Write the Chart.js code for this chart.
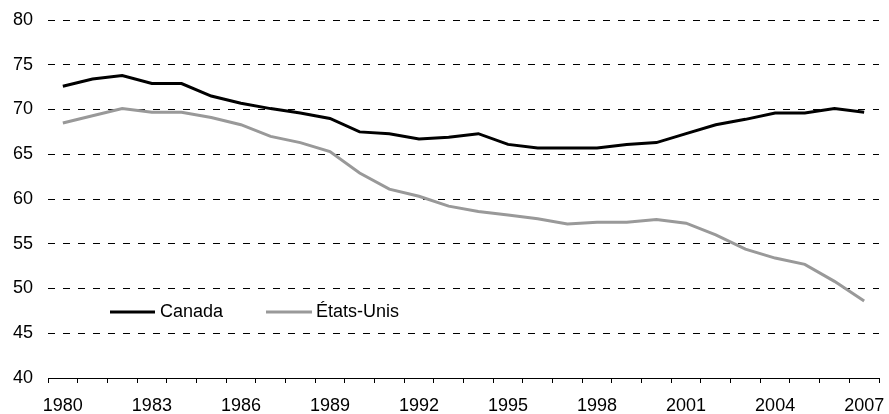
<!DOCTYPE html>
<html>
<head>
<meta charset="utf-8">
<script src="https://cdn.jsdelivr.net/npm/chart.js@4"></script>
<style>
html,body{margin:0;padding:0;background:#fff;}
#wrap{width:889px;height:414px;}
</style>
</head>
<body>
<div id="wrap"><canvas id="c" width="889" height="414"></canvas></div>
<script>
const years = [1980,1981,1982,1983,1984,1985,1986,1987,1988,1989,1990,1991,1992,1993,1994,1995,1996,1997,1998,1999,2000,2001,2002,2003,2004,2005,2006,2007];
const canada = [72.6,73.4,73.8,72.9,72.9,71.5,70.7,70.1,69.6,69.0,67.5,67.3,66.7,66.9,67.3,66.1,65.7,65.7,65.7,66.1,66.3,67.3,68.3,68.9,69.6,69.6,70.1,69.7];
const etatsUnis = [68.5,69.3,70.1,69.7,69.7,69.1,68.3,67.0,66.3,65.3,62.9,61.1,60.3,59.2,58.6,58.2,57.8,57.2,57.4,57.4,57.7,57.3,56.0,54.4,53.4,52.7,50.8,48.6];
const seriesNames = ["Canada","États-Unis"];
const yMin = 40, yMax = 80, yStep = 5;
const labelEvery = 3;

const FONT = "Liberation Sans, Arial, sans-serif";

const legendPlugin = {
  id: 'inlineLegend',
  afterDatasetsDraw(chart) {
    const ctx = chart.ctx;
    const items = [
      {x0:110, x1:155, tx:160},
      {x0:266, x1:312, tx:316}
    ];
    const y = 312;
    ctx.save();
    chart.data.datasets.forEach((ds, i) => {
      const it = items[i];
      ctx.beginPath();
      ctx.strokeStyle = ds.borderColor;
      ctx.lineWidth = ds.borderWidth;
      ctx.moveTo(it.x0, y);
      ctx.lineTo(it.x1, y);
      ctx.stroke();
      ctx.fillStyle = '#000';
      ctx.font = '18px ' + FONT;
      ctx.textBaseline = 'middle';
      ctx.textAlign = 'left';
      ctx.fillText(ds.label, it.tx, y);
    });
    ctx.restore();
  }
};

new Chart(document.getElementById('c'), {
  type: 'line',
  data: {
    labels: years.map(String),
    datasets: [
      {label: seriesNames[0], data: canada, borderColor: '#000000', borderWidth: 3, pointRadius: 0, tension: 0, fill: false},
      {label: seriesNames[1], data: etatsUnis, borderColor: '#999999', borderWidth: 3, pointRadius: 0, tension: 0, fill: false}
    ]
  },
  options: {
    responsive: false,
    animation: false,
    devicePixelRatio: 1,
    layout: {padding: {top: 20, right: 10, left: 0, bottom: 0}},
    plugins: {legend: {display: false}, tooltip: {enabled: false}},
    scales: {
      x: {
        type: 'category',
        offset: true,
        grid: {display: true, offset: true, drawOnChartArea: false, drawTicks: true, tickLength: 5, color: '#000'},
        border: {display: true, color: '#000', width: 1},
        ticks: {
          autoSkip: false, maxRotation: 0, minRotation: 0, padding: 12,
          color: '#000', font: {family: FONT, size: 18},
          callback: function(v, i) { return i % labelEvery === 0 ? this.getLabelForValue(v) : ''; }
        },
        afterFit: (s) => { s.height = 36; s.paddingLeft = 0; s.paddingRight = 0; }
      },
      y: {
        min: yMin, max: yMax,
        grid: {display: true, drawTicks: false, color: '#000', lineWidth: 1},
        border: {display: false, dash: [7, 8]},
        ticks: {stepSize: yStep, padding: 15, color: '#000', font: {family: FONT, size: 18}},
        afterFit: (s) => { s.width = 48; s.paddingTop = 0; s.paddingBottom = 0; }
      }
    }
  },
  plugins: [legendPlugin]
});
</script>
</body>
</html>
